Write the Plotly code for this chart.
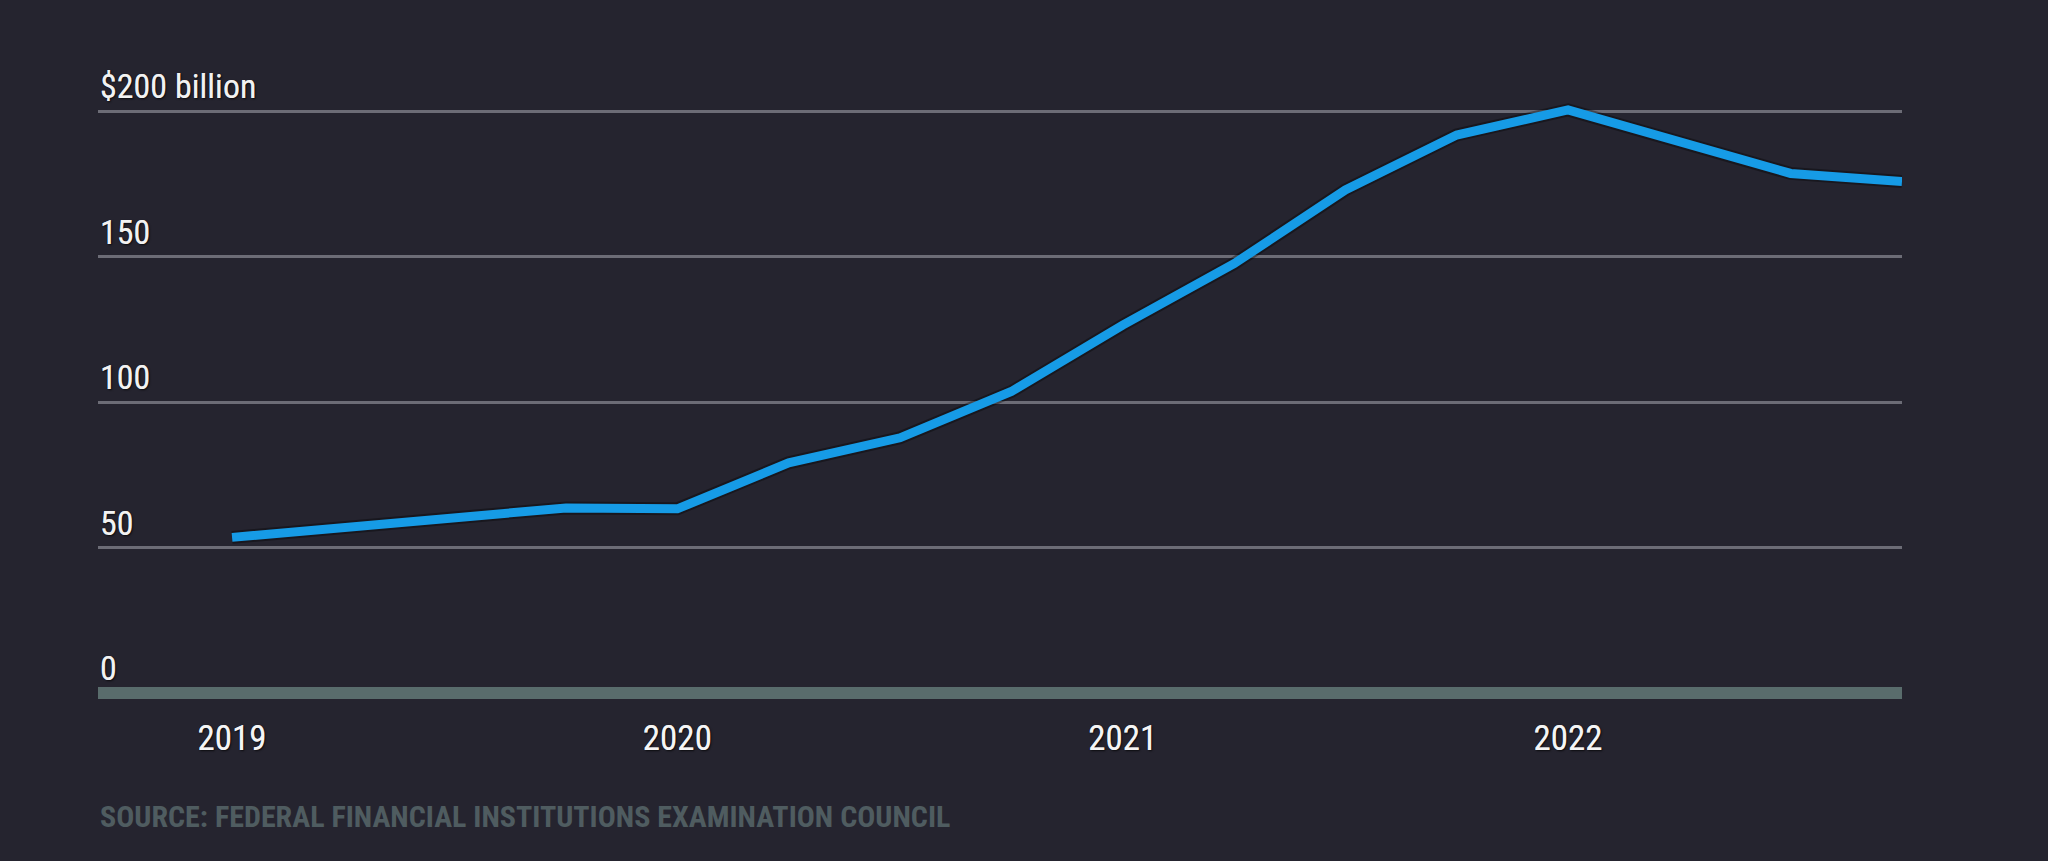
import plotly.graph_objects as go

# ---- data ----
quarters = ["2019 Q1", "2019 Q2", "2019 Q3", "2019 Q4",
            "2020 Q1", "2020 Q2", "2020 Q3", "2020 Q4",
            "2021 Q1", "2021 Q2", "2021 Q3", "2021 Q4",
            "2022 Q1", "2022 Q2", "2022 Q3", "2022 Q4"]
values = [53.6, 57.2, 60.7, 63.7,
          63.4, 79.2, 87.8, 103.7,
          126.5, 147.6, 172.9, 191.8,
          200.4, 189.8, 178.6, 175.8]

x_tick_vals = ["2019 Q1", "2020 Q1", "2021 Q1", "2022 Q1"]
x_tick_text = ["2019", "2020", "2021", "2022"]

y_tick_vals = [0, 50, 100, 150, 200]
y_tick_text = ["0", "50", "100", "150", "$200 billion"]

source_text = "SOURCE: FEDERAL FINANCIAL INSTITUTIONS EXAMINATION COUNCIL"

# ---- style ----
BG = "#25242f"
LINE = "#169be6"
GRID = "#6c6c76"
ZERO = "#596c6c"
FONT = "Liberation Sans Narrow, Arial Narrow, Roboto Condensed, Liberation Sans, sans-serif"
SHADOW = "1px 1px 2px rgba(0,0,0,0.7), 0 0 0.6px rgba(255,255,255,0.8)"

fig = go.Figure()

fig.add_trace(go.Scatter(
    x=quarters, y=values, mode="lines",
    line=dict(color="rgba(0,0,0,0.35)", width=13),
    hoverinfo="skip", showlegend=False,
))
fig.add_trace(go.Scatter(
    x=quarters, y=values, mode="lines",
    line=dict(color=LINE, width=9),
    showlegend=False,
))

annotations = []
for v, t in zip(y_tick_vals, y_tick_text):
    annotations.append(dict(
        x=0, xref="paper", xanchor="left",
        y=v, yref="y", yanchor="middle", yshift=25,
        text=t, showarrow=False,
        font=dict(family=FONT, size=34, color="#f2f2f2", shadow=SHADOW),
    ))

annotations.append(dict(
    x=0, xref="paper", xanchor="left",
    y=-0.1736, yref="paper", yanchor="middle",
    text="<b>" + source_text + "</b>", showarrow=False,
    font=dict(family=FONT, size=30, color="#4f5c60"),
))

fig.update_layout(
    width=2048, height=861,
    paper_bgcolor=BG, plot_bgcolor=BG,
    margin=dict(l=98, r=146, t=82, b=153, pad=0),
    showlegend=False,
    annotations=annotations,
    xaxis=dict(
        type="category",
        categoryorder="array", categoryarray=quarters,
        range=[-1.204, 15],
        showgrid=False, zeroline=False, showline=False,
        ticks="",
        tickmode="array", tickvals=x_tick_vals, ticktext=x_tick_text,
        tickfont=dict(family=FONT, size=35, color="#f5f5f5", shadow=SHADOW),
        ticklabelstandoff=6,
        fixedrange=True,
    ),
    yaxis=dict(
        range=[-5, 210],
        showgrid=True, gridcolor=GRID, gridwidth=3,
        tickmode="array", tickvals=[50, 100, 150, 200],
        showticklabels=False, ticks="",
        zeroline=True, zerolinecolor=ZERO, zerolinewidth=12,
        showline=False,
        fixedrange=True,
    ),
)

fig.write_html("out.html")
